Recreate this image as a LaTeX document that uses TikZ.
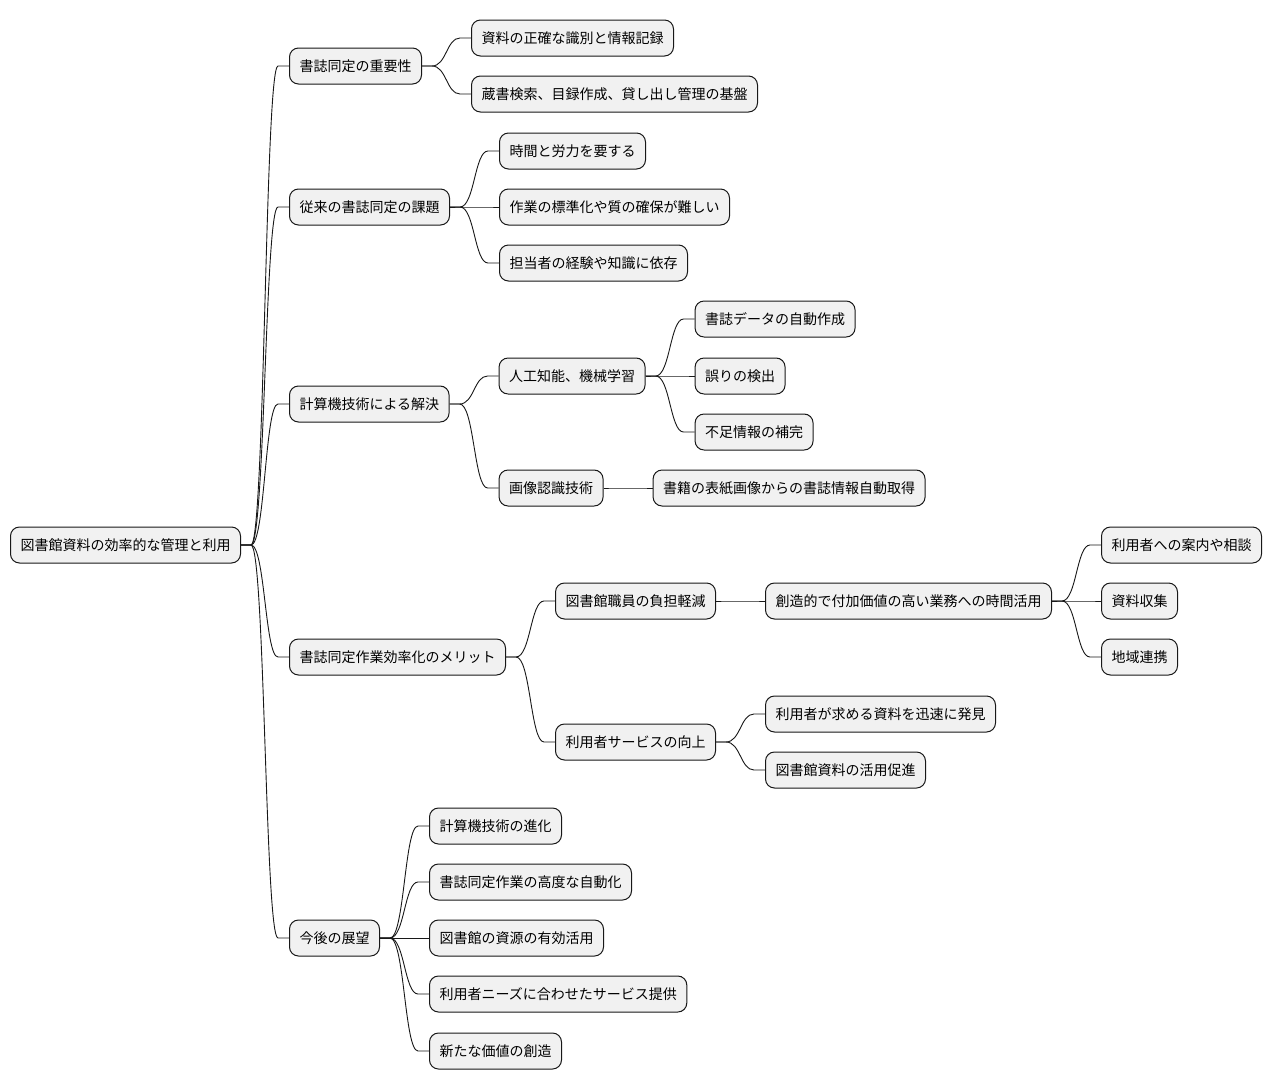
\documentclass[tikz,border=0pt]{standalone}
\usepackage{fontspec}
\setmainfont{Noto Sans CJK JP}
\usetikzlibrary{positioning,calc}
\definecolor{MapFill}{HTML}{F1F1F1}
\definecolor{MapLine}{HTML}{181818}

\begin{document}
\begin{tikzpicture}[x=1pt, y=1pt, node distance=49pt,
  topic/.style={draw=MapLine, fill=MapFill, line width=1pt, rounded corners=9pt,
    inner xsep=10pt, inner ysep=0pt, minimum height=36pt,
    font=\fontsize{14pt}{16pt}\selectfont},
  branch/.style={draw=MapLine, line width=0.9pt,
    to path={let \p1=(\tikztostart.east), \p2=(\tikztotarget.west) in
      (\p1) -- (\x1+10pt,\y1)
      .. controls ({(\x1+\x2)/2},\y1) and ({(\x1+\x2)/2},\y2) ..
      (\x2-11pt,\y2) -- (\p2)}}]
  \useasboundingbox[fill=white] (0,0) rectangle (1272,-1090);

  % root and first level
  \node[topic, anchor=west] (root) at (10,-545) {図書館資料の効率的な管理と利用};
  \node[topic, right=48pt of root, yshift=479pt] (imp) {書誌同定の重要性};
  \node[topic, right=48pt of root, yshift=338pt] (old) {従来の書誌同定の課題};
  \node[topic, right=48pt of root, yshift=141pt] (sol) {計算機技術による解決};
  \node[topic, right=48pt of root, yshift=-112pt] (merit) {書誌同定作業効率化のメリット};
  \node[topic, right=48pt of root, yshift=-393pt] (future) {今後の展望};

  % importance
  \node[topic, right=of imp, yshift=28pt] (imp1) {資料の正確な識別と情報記録};
  \node[topic, right=of imp, yshift=-28pt] (imp2) {蔵書検索、目録作成、貸し出し管理の基盤};

  % old problems
  \node[topic, right=of old, yshift=56pt] (old1) {時間と労力を要する};
  \node[topic, right=of old] (old2) {作業の標準化や質の確保が難しい};
  \node[topic, right=of old, yshift=-56pt] (old3) {担当者の経験や知識に依存};

  % solution
  \node[topic, right=of sol, yshift=28pt] (ai) {人工知能、機械学習};
  \node[topic, right=of sol, yshift=-84pt] (img) {画像認識技術};
  \node[topic, right=of ai, yshift=57pt] (ai1) {書誌データの自動作成};
  \node[topic, right=of ai] (ai2) {誤りの検出};
  \node[topic, right=of ai, yshift=-56pt] (ai3) {不足情報の補完};
  \node[topic, right=of img] (img1) {書籍の表紙画像からの書誌情報自動取得};

  % merits
  \node[topic, right=of merit, yshift=56pt] (staff) {図書館職員の負担軽減};
  \node[topic, right=of merit, yshift=-85pt] (serv) {利用者サービスの向上};
  \node[topic, right=of staff] (creat) {創造的で付加価値の高い業務への時間活用};
  \node[topic, right=of creat, yshift=56pt] (guide) {利用者への案内や相談};
  \node[topic, right=of creat] (collect) {資料収集};
  \node[topic, right=of creat, yshift=-56pt] (region) {地域連携};
  \node[topic, right=of serv, yshift=28pt] (serv1) {利用者が求める資料を迅速に発見};
  \node[topic, right=of serv, yshift=-28pt] (serv2) {図書館資料の活用促進};

  % outlook
  \node[topic, right=of future, yshift=112pt] (fut1) {計算機技術の進化};
  \node[topic, right=of future, yshift=56pt] (fut2) {書誌同定作業の高度な自動化};
  \node[topic, right=of future] (fut3) {図書館の資源の有効活用};
  \node[topic, right=of future, yshift=-56pt] (fut4) {利用者ニーズに合わせたサービス提供};
  \node[topic, right=of future, yshift=-113pt] (fut5) {新たな価値の創造};

  % branches
  \foreach \c in {imp,old,sol,merit,future} \draw[branch] (root) to (\c);
  \foreach \c in {imp1,imp2} \draw[branch] (imp) to (\c);
  \foreach \c in {old1,old2,old3} \draw[branch] (old) to (\c);
  \foreach \c in {ai,img} \draw[branch] (sol) to (\c);
  \foreach \c in {ai1,ai2,ai3} \draw[branch] (ai) to (\c);
  \draw[branch] (img) to (img1);
  \foreach \c in {staff,serv} \draw[branch] (merit) to (\c);
  \draw[branch] (staff) to (creat);
  \foreach \c in {guide,collect,region} \draw[branch] (creat) to (\c);
  \foreach \c in {serv1,serv2} \draw[branch] (serv) to (\c);
  \foreach \c in {fut1,fut2,fut3,fut4,fut5} \draw[branch] (future) to (\c);
\end{tikzpicture}
\end{document}
